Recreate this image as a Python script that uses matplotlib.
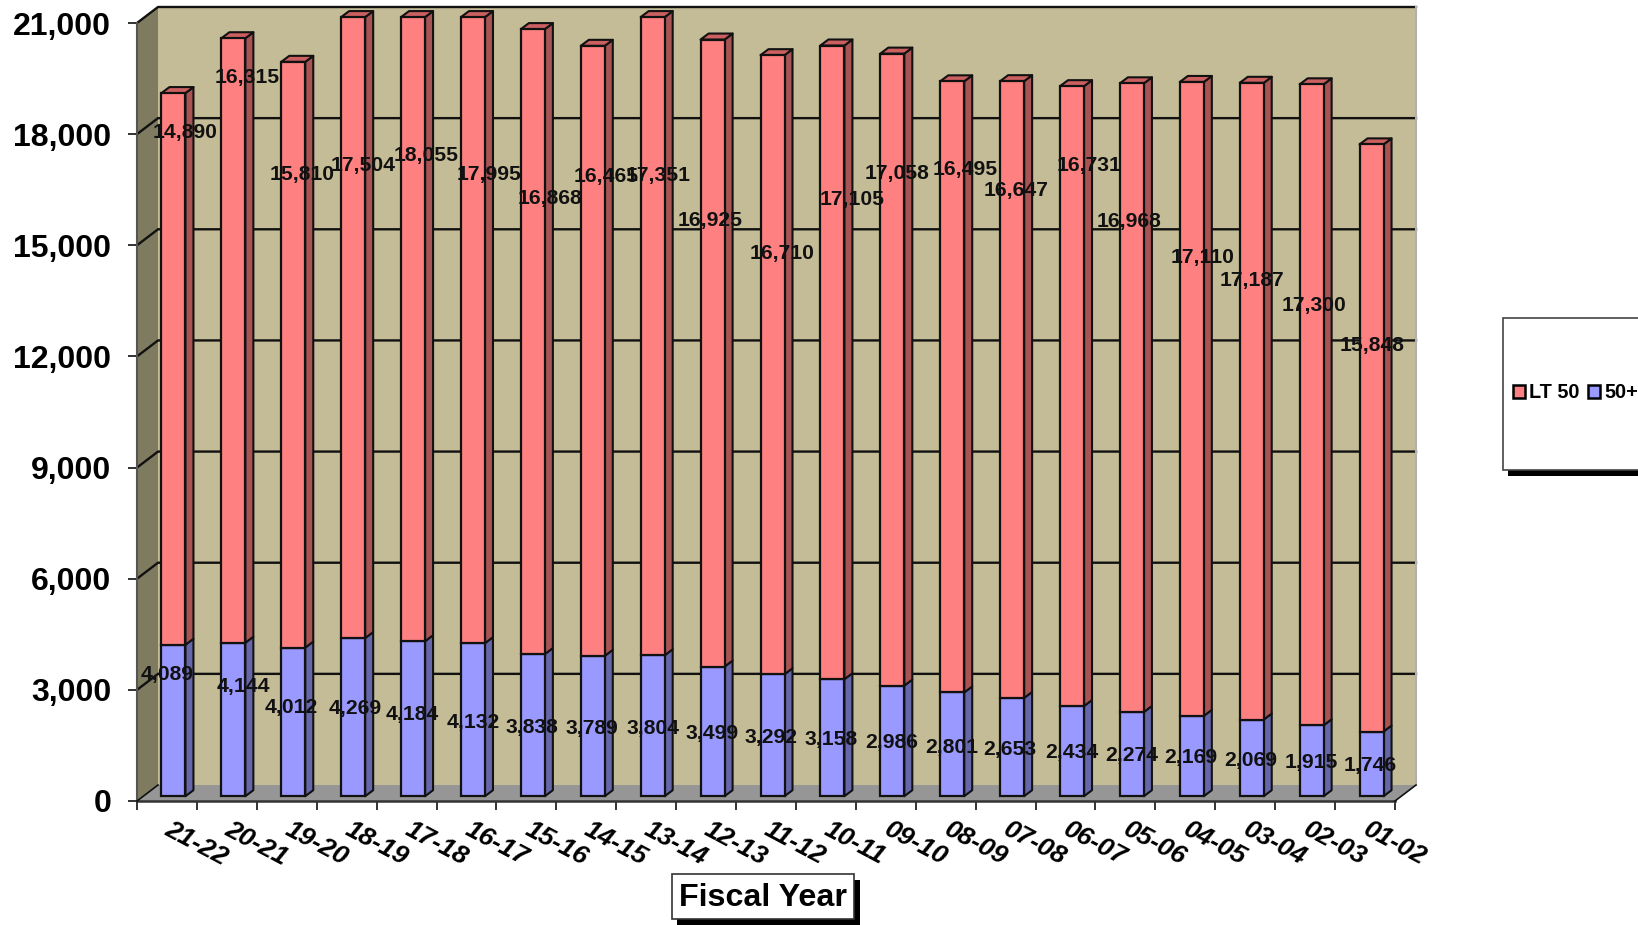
import numpy as np
import matplotlib
matplotlib.use("Agg")
import matplotlib.pyplot as plt
from matplotlib.patches import Patch, Polygon, Rectangle

plt.rcParams['font.family'] = ['Liberation Sans', 'DejaVu Sans']

# ---------- data ----------
fiscal_years = ['21-22', '20-21', '19-20', '18-19', '17-18', '16-17', '15-16',
                '14-15', '13-14', '12-13', '11-12', '10-11', '09-10', '08-09',
                '07-08', '06-07', '05-06', '04-05', '03-04', '02-03', '01-02']
lt_50 = [14890, 16315, 15810, 17504, 18055, 17995, 16868, 16465, 17351, 16925,
         16710, 17105, 17058, 16495, 16647, 16731, 16968, 17110, 17187, 17300,
         15848]
over_50 = [4089, 4144, 4012, 4269, 4184, 4132, 3838, 3789, 3804, 3499, 3292,
           3158, 2986, 2801, 2653, 2434, 2274, 2169, 2069, 1915, 1746]
y_ticks = [0, 3000, 6000, 9000, 12000, 15000, 18000, 21000]
y_max = 21000

# ---------- hand-placed data label positions (in 1568x885 picture space) ----------
lt_label_x = [177, 237, 289, 348, 408, 468, 526, 580, 630, 680, 749, 816, 859,
              924, 973, 1043, 1081, 1151, 1198, 1258, 1313]
lt_label_y = [127, 74, 167, 158, 149, 167, 190, 169, 168, 211, 243, 191, 166,
              162, 182, 158, 212, 246, 268, 292, 331]
ov_label_x = [160, 233, 279, 340, 395, 453, 509, 567, 625, 682, 738, 796, 854,
              911, 967, 1026, 1083, 1140, 1197, 1255, 1312]
ov_label_y = [645, 657, 677, 678, 684, 691, 696, 697, 697, 702, 706, 708, 710,
              715, 717, 720, 723, 725, 728, 730, 732]

# ---------- style ----------
W, H = 1638, 925
PINK, PINK_SIDE, PINK_TOP = '#FF8080', '#A85454', '#CC6060'
BLUE, BLUE_SIDE = '#9999FF', '#6666AA'
WALL, WALL_LEFT, FLOOR = '#C4BC96', '#7F7B60', '#969696'
INK = '#111111'

fig = plt.figure(figsize=(W / 100, H / 100), dpi=100, facecolor='white')
ax = fig.add_axes([137 / W, 1 - 801 / H, (1395 - 137) / W, (801 - 23) / H])
n = len(fiscal_years)
ax.set_xlim(0, n)
ax.set_ylim(0, y_max)
ax.patch.set_visible(False)
for s in ax.spines.values():
    s.set_visible(False)

px_x = n / (1395 - 137)          # category units per pixel
px_y = y_max / (801 - 23)        # value units per pixel
wall_dx, wall_dy = 21 * px_x, 16 * px_y
bar_dx, bar_dy = 6.5 * px_x, 4.8 * px_y
bar_w = 24 * px_x
depth_x, depth_y = 8 * px_x, 6 * px_y
bar_cap = y_max + 30


def poly(pts, fc, ec='none', lw=0.0, z=1):
    ax.add_patch(Polygon(pts, closed=True, facecolor=fc, edgecolor=ec,
                         linewidth=lw, zorder=z, clip_on=False,
                         joinstyle='round'))


# walls and floor
poly([(wall_dx, wall_dy), (n + wall_dx, wall_dy), (n + wall_dx, y_max + wall_dy),
      (wall_dx, y_max + wall_dy)], WALL, z=1)
poly([(0, 0), (wall_dx, wall_dy), (wall_dx, y_max + wall_dy), (0, y_max)],
     WALL_LEFT, z=1)
poly([(0, 0), (n, 0), (n + wall_dx, wall_dy), (wall_dx, wall_dy)], FLOOR, z=1)

# gridlines on back and left wall
for t in y_ticks[1:]:
    ax.plot([0, wall_dx, n + wall_dx], [t, t + wall_dy, t + wall_dy],
            color=INK, lw=1.7, zorder=2, clip_on=False, solid_joinstyle='miter')
ax.plot([n + wall_dx, n + wall_dx], [wall_dy, y_max + wall_dy], color='#B0B0B0',
        lw=1.5, zorder=2, clip_on=False)
ax.plot([0, 0], [0, y_max], color='#555555', lw=1.5, zorder=2, clip_on=False)
ax.plot([0, n], [0, 0], color='#333333', lw=1.8, zorder=2, clip_on=False)
ax.plot([n, n + wall_dx], [0, wall_dy], color=INK, lw=1.2, zorder=2, clip_on=False)
ax.plot([0, wall_dx], [0, wall_dy], color=INK, lw=1.2, zorder=2, clip_on=False)

# 3-D stacked columns, clipped at the axis maximum as in the source
lt = np.array(lt_50)
ov = np.array(over_50)
x_left = np.arange(n) + 0.5 + bar_dx - bar_w / 2
blue_top = np.minimum(ov, bar_cap)
total_top = np.minimum(ov + lt, bar_cap)

ax.bar(x_left, blue_top, width=bar_w, bottom=bar_dy, align='edge', color=BLUE,
       edgecolor=INK, linewidth=1.6, zorder=4, clip_on=False)
ax.bar(x_left, total_top - blue_top, width=bar_w, bottom=blue_top + bar_dy,
       align='edge', color=PINK, edgecolor=INK, linewidth=1.6, zorder=4, clip_on=False)

for xl, bt, tt in zip(x_left, blue_top, total_top):
    xr = xl + bar_w
    poly([(xr, bar_dy), (xr + depth_x, bar_dy + depth_y),
          (xr + depth_x, bt + bar_dy + depth_y), (xr, bt + bar_dy)],
         BLUE_SIDE, INK, 1.5, z=3)
    poly([(xr, bt + bar_dy), (xr + depth_x, bt + bar_dy + depth_y),
          (xr + depth_x, tt + bar_dy + depth_y), (xr, tt + bar_dy)],
         PINK_SIDE, INK, 1.5, z=3)
    poly([(xl, tt + bar_dy), (xr, tt + bar_dy),
          (xr + depth_x, tt + bar_dy + depth_y), (xl + depth_x, tt + bar_dy + depth_y)],
         PINK_TOP, INK, 1.5, z=3)

# axes ticks
ax.set_yticks(y_ticks)
ax.set_yticklabels([f'{t:,}' for t in y_ticks], fontsize=23, fontweight='bold', color='black')
ax.tick_params(axis='y', length=6.5, width=1.2, pad=12, color=INK)
ax.set_xticks(np.arange(n + 1))
ax.set_xticklabels([])
ax.tick_params(axis='x', which='major', length=6.5, width=1.2, color=INK)
ax.set_xticks(np.arange(n) + 0.5, minor=True)
ax.set_xticklabels(fiscal_years, minor=True, fontsize=19, fontweight='bold',
                   fontstyle='italic', rotation=-28, ha='left', va='center',
                   rotation_mode='anchor')
ax.tick_params(axis='x', which='minor', length=0, pad=19)

# data labels
for i in range(n):
    for v, base, lx, ly in ((lt[i], ov[i], lt_label_x[i], lt_label_y[i]),
                            (ov[i], 0, ov_label_x[i], ov_label_y[i])):
        ax.annotate(f'{v:,}', xy=(i + 0.5 + bar_dx, min(base + v / 2, y_max)),
                    xytext=(lx / 1568, 1 - ly / 885), textcoords='figure fraction',
                    ha='center', va='center', fontsize=15.2, fontweight='bold',
                    color='#111111', zorder=8, annotation_clip=False)


def fig_box(x0, y0, x1, y1, fc, ec='none', lw=0.0, z=5):
    fig.add_artist(Rectangle((x0 / W, 1 - y1 / H), (x1 - x0) / W, (y1 - y0) / H,
                             transform=fig.transFigure, facecolor=fc, edgecolor=ec,
                             linewidth=lw, zorder=z))


# legend box with shadow
fig_box(1508, 323, 1645, 476, 'black', z=5)
fig_box(1503, 318, 1645, 470, 'white', '#444444', 1.2, z=6)
leg = fig.legend(handles=[Patch(facecolor=PINK, edgecolor='black', linewidth=1.8, label='LT 50'),
                          Patch(facecolor=BLUE, edgecolor='black', linewidth=1.8, label='50+')],
                 loc='center left', bbox_to_anchor=(1513 / W, 1 - 393 / H), ncol=2,
                 frameon=False, prop={'size': 14.3, 'weight': 'bold'},
                 handlelength=0.62, handleheight=0.62, handletextpad=0.2,
                 columnspacing=0.42, borderpad=0, borderaxespad=0)
leg.set_zorder(7)

# axis title box with shadow
fig_box(677, 880, 860, 925, 'black', z=9)
fig_box(672, 874, 854, 919, 'white', '#333333', 1.2, z=10)
fig.text(763 / W, 1 - 898.5 / H, 'Fiscal Year', ha='center', va='center',
         fontsize=23.2, fontweight='bold', color='black', zorder=11)

fig.savefig('out.png', dpi=100, facecolor='white')
